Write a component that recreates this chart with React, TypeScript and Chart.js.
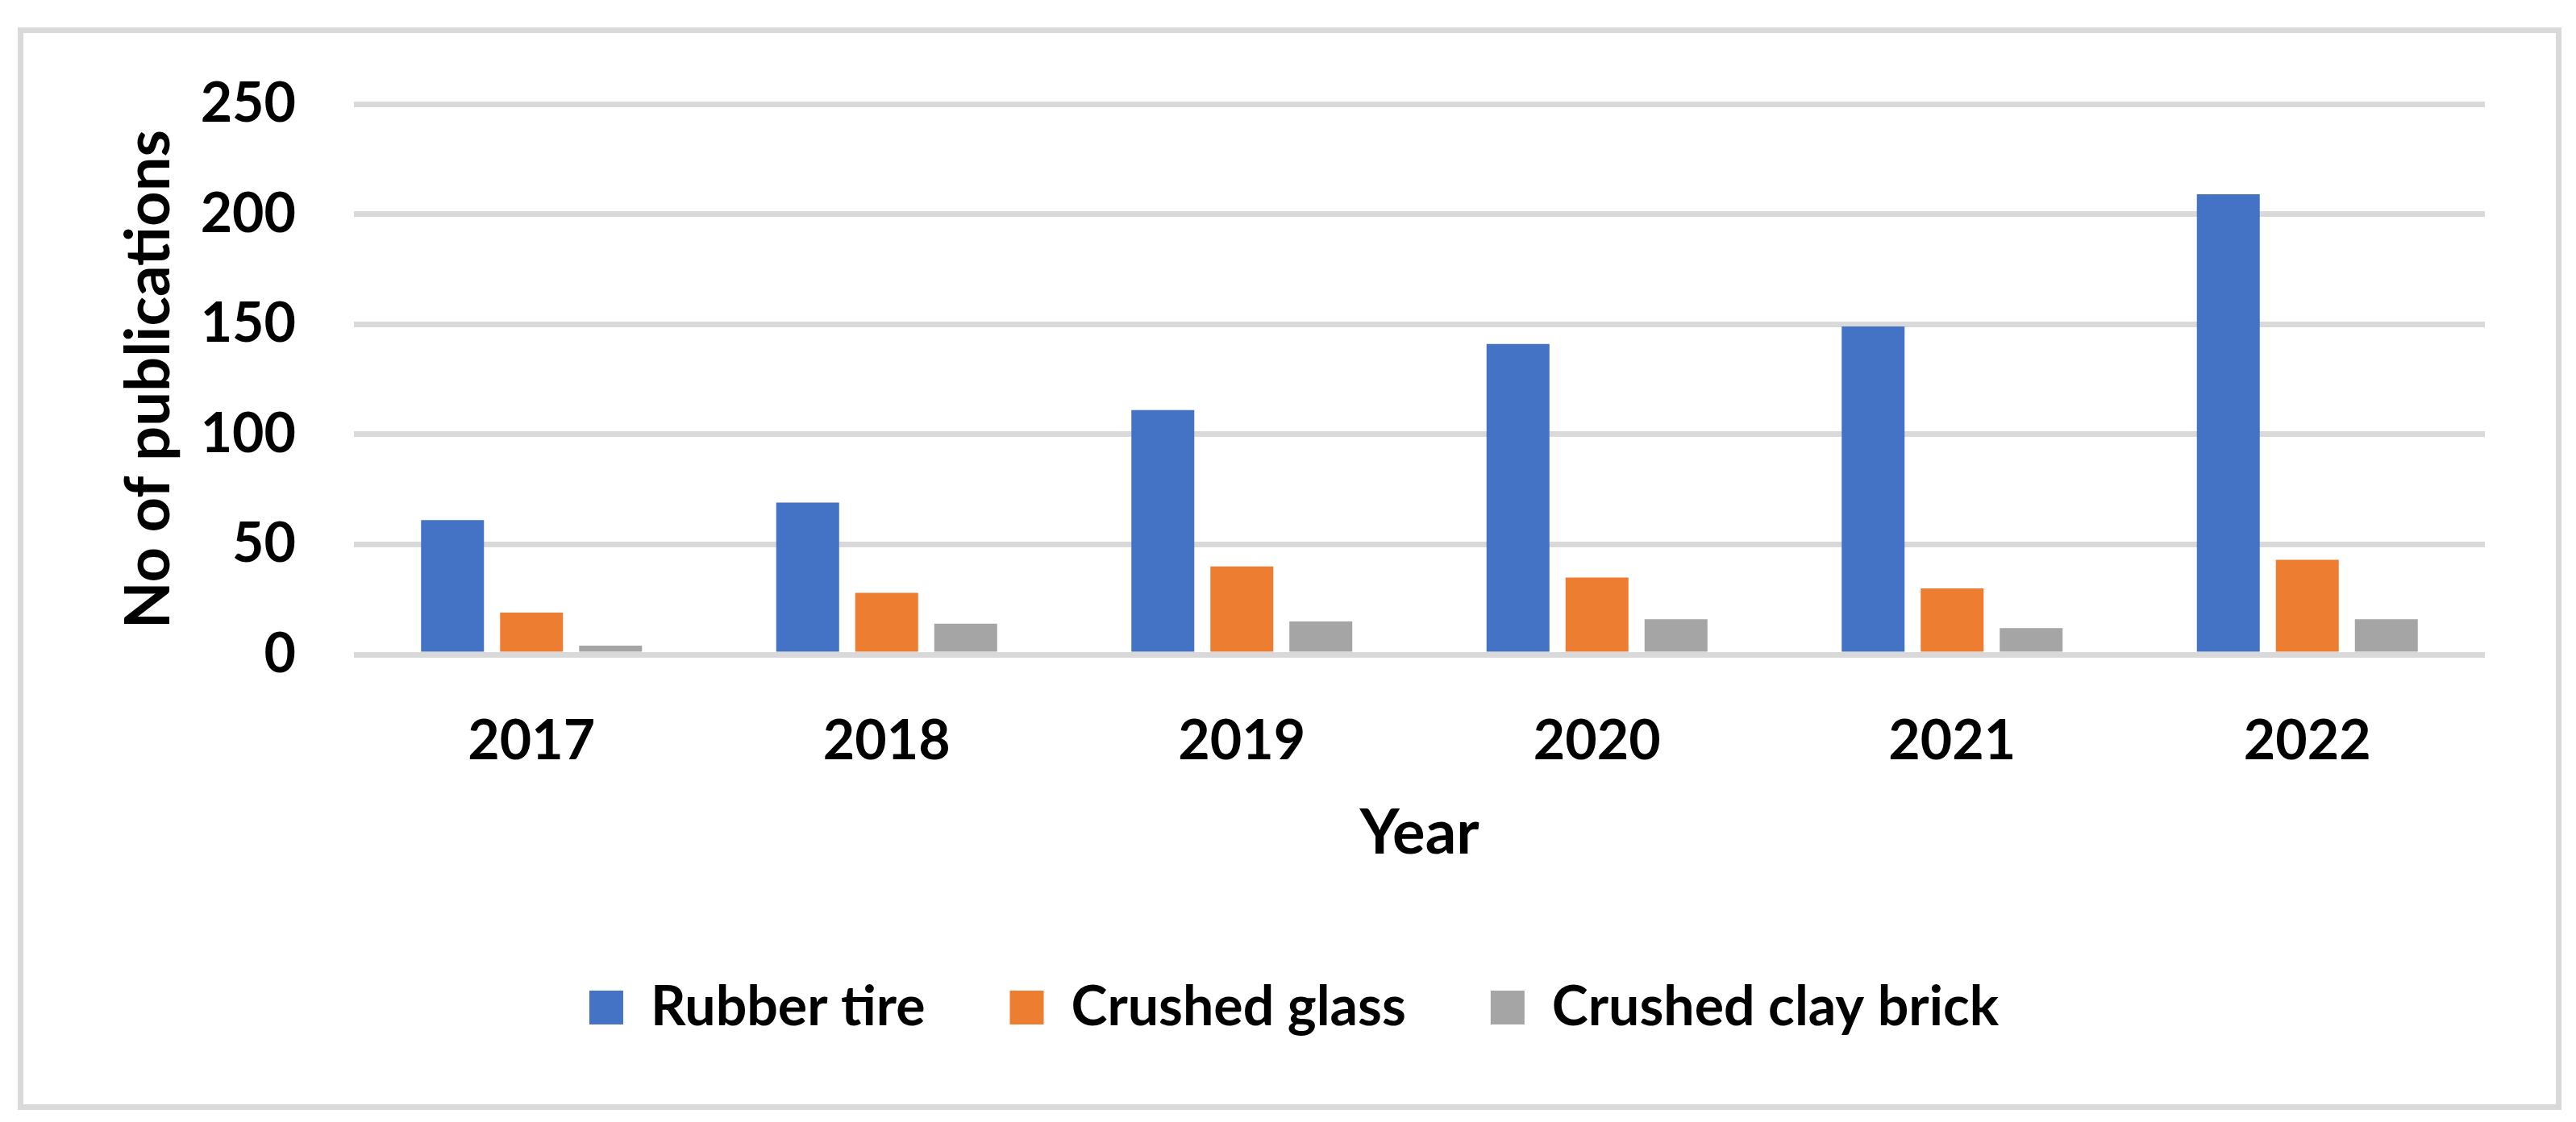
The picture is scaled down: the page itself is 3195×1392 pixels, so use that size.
import React, { useEffect, useRef } from "react";
import { Chart, registerables } from "chart.js";

Chart.register(...registerables);

const categories = ["2017", "2018", "2019", "2020", "2021", "2022"];
const rubberTire = [61, 69, 111, 141, 149, 209];
const crushedGlass = [19, 28, 40, 35, 30, 43];
const crushedClayBrick = [4, 14, 15, 16, 12, 16];
const seriesNames = ["Rubber tire", "Crushed glass", "Crushed clay brick"];
const seriesColors = ["#4472C4", "#ED7D31", "#A5A5A5"];
const yMin = 0;
const yMax = 250;
const yStep = 50;
const xTitle = "Year";
const yTitle = "No of publications";

const W = 3195;
const H = 1392;
const FONT = "Lato, 'Open Sans', sans-serif";

export default function App() {
  const ref = useRef<HTMLCanvasElement | null>(null);

  useEffect(() => {
    if (!ref.current) return;
    const values = [rubberTire, crushedGlass, crushedClayBrick];
    const padLeft = 128;
    const chart = new Chart(ref.current, {
      type: "bar",
      data: {
        labels: categories,
        datasets: values.map((v, i) => ({
          label: seriesNames[i],
          data: v,
          backgroundColor: seriesColors[i],
          borderWidth: 0,
          categoryPercentage: 0.6674,
          barPercentage: 0.796,
        })),
      },
      options: {
        responsive: false,
        animation: false,
        devicePixelRatio: 1,
        layout: { padding: { top: 129, right: 113, bottom: 98, left: padLeft } },
        plugins: {
          tooltip: { enabled: false },
          legend: {
            position: "bottom",
            labels: {
              boxWidth: 42,
              boxHeight: 42,
              padding: 105,
              color: "#000",
              font: { family: FONT, size: 68, weight: "bold" },
            },
          },
        },
        scales: {
          x: {
            grid: { display: false },
            border: { display: false },
            ticks: {
              color: "#000",
              padding: 59,
              font: { family: FONT, size: 68, weight: "bold" },
            },
            title: {
              display: true,
              text: xTitle,
              color: "#000",
              padding: { top: 0, bottom: 31 },
              font: { family: FONT, size: 76, weight: "bold" },
            },
            afterFit: (s: any) => {
              s.height = 299;
            },
          },
          y: {
            min: yMin,
            max: yMax,
            grid: { color: "#D9D9D9", lineWidth: 7, drawTicks: false },
            border: { display: false },
            ticks: {
              stepSize: yStep,
              color: "#000",
              padding: 72,
              font: { family: FONT, size: 68, weight: "bold" },
            },
            title: {
              display: true,
              text: yTitle,
              color: "#000",
              padding: { top: 140 - padLeft, bottom: 0 },
              font: { family: FONT, size: 76, weight: "bold" },
            },
            afterFit: (s: any) => {
              s.width = 439 - padLeft;
            },
          },
        },
      },
    });
    return () => chart.destroy();
  }, []);

  return (
    <div style={{ position: "absolute", left: 0, top: 0, width: W, height: H, background: "#fff" }}>
      <canvas ref={ref} width={W} height={H} style={{ position: "absolute", left: 0, top: 0, width: W, height: H }} />
      <div
        style={{
          position: "absolute",
          left: 22,
          top: 34,
          width: 3177 - 22,
          height: 1377 - 34,
          border: "7px solid #D9D9D9",
          boxSizing: "border-box",
          pointerEvents: "none",
        }}
      />
    </div>
  );
}
